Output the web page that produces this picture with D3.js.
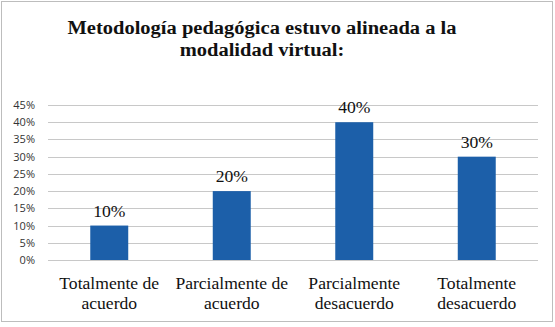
<!DOCTYPE html>
<html>
<head>
<meta charset="utf-8">
<script src="https://cdn.jsdelivr.net/npm/d3@7"></script>
</head>
<body style="margin:0">
<svg id="fig" width="555" height="327"></svg>
<script>
var titleLines = ["Metodología pedagógica estuvo alineada a la", "modalidad virtual:"];
var categories = [["Totalmente de", "acuerdo"], ["Parcialmente de", "acuerdo"], ["Parcialmente", "desacuerdo"], ["Totalmente", "desacuerdo"]];
var values = [0.10, 0.20, 0.40, 0.30];
var ticks = [0, 0.05, 0.10, 0.15, 0.20, 0.25, 0.30, 0.35, 0.40, 0.45];

var serifFont = "'Liberation Serif', 'Times New Roman', serif";
var svg = d3.select("#fig");
var margin = {left: 48, right: 17, top: 105, bottom: 67};
var width = 555 - margin.left - margin.right,
    height = 327 - margin.top - margin.bottom;

// outer frame
svg.append("rect")
  .attr("x", 1.5).attr("y", 1.5)
  .attr("width", 551).attr("height", 320)
  .attr("fill", "#fff").attr("stroke", "#bdbdbd");

// title
svg.append("g").selectAll("text")
  .data(titleLines)
  .enter().append("text")
    .attr("text-anchor", "middle")
    .attr("transform", function(d, i) { return "translate(262," + (34 + i * 22) + ") scale(1.08,1)"; })
    .style("font-family", serifFont, "important")
    .style("font-weight", "bold")
    .style("font-size", "19px")
    .attr("fill", "#111")
    .text(function(d) { return d; });

var g = svg.append("g").attr("transform", "translate(" + margin.left + "," + margin.top + ")");

var x = d3.scaleBand().domain(d3.range(categories.length)).range([0, width]).paddingInner(0.69).paddingOuter(0.345);
var y = d3.scaleLinear().domain([0, 0.45]).range([height, 0]);

// gridlines
g.selectAll("line.grid")
  .data(ticks)
  .enter().append("line")
    .attr("class", "grid")
    .attr("x1", 0).attr("x2", width)
    .attr("y1", function(d) { return Math.round(y(d)) + 0.5; })
    .attr("y2", function(d) { return Math.round(y(d)) + 0.5; })
    .attr("stroke", "#c8c8c8");

// y axis labels
var yAxis = d3.axisLeft(y).tickValues(ticks).tickFormat(d3.format(".0%")).tickSize(0).tickPadding(13);
g.append("g").call(yAxis)
  .call(function(s) { s.select(".domain").remove(); })
  .selectAll("text")
    .style("font-family", "'Open Sans', sans-serif")
    .style("font-size", "11px")
    .attr("fill", "#333");

// bars
g.selectAll("rect.bar")
  .data(values)
  .enter().append("rect")
    .attr("class", "bar")
    .attr("x", function(d, i) { return x(i); })
    .attr("y", function(d) { return y(d); })
    .attr("width", x.bandwidth())
    .attr("height", function(d) { return height - y(d); })
    .attr("fill", "#1c5fa9");

// value labels
g.selectAll("text.val")
  .data(values)
  .enter().append("text")
    .attr("class", "val")
    .attr("text-anchor", "middle")
    .attr("transform", function(d, i) { return "translate(" + (x(i) + x.bandwidth() / 2) + "," + (y(d) - 9) + ") scale(1.1,1)"; })
    .style("font-family", serifFont, "important")
    .style("font-size", "16px")
    .attr("fill", "#111")
    .text(function(d) { return d3.format(".0%")(d); });

// category labels
var cat = g.selectAll("text.cat")
  .data(categories)
  .enter().append("text")
    .attr("class", "cat")
    .attr("text-anchor", "middle")
    .attr("transform", function(d, i) { return "translate(" + (x(i) + x.bandwidth() / 2) + "," + (height + 29) + ") scale(1.1,1)"; })
    .style("font-family", serifFont, "important")
    .style("font-size", "16px")
    .attr("fill", "#111");
cat.selectAll("tspan")
  .data(function(d) { return d; })
  .enter().append("tspan")
    .attr("x", 0)
    .attr("y", function(d, i) { return i * 20; })
    .style("font-family", serifFont, "important")
    .text(function(d) { return d; });
</script>
</body>
</html>
